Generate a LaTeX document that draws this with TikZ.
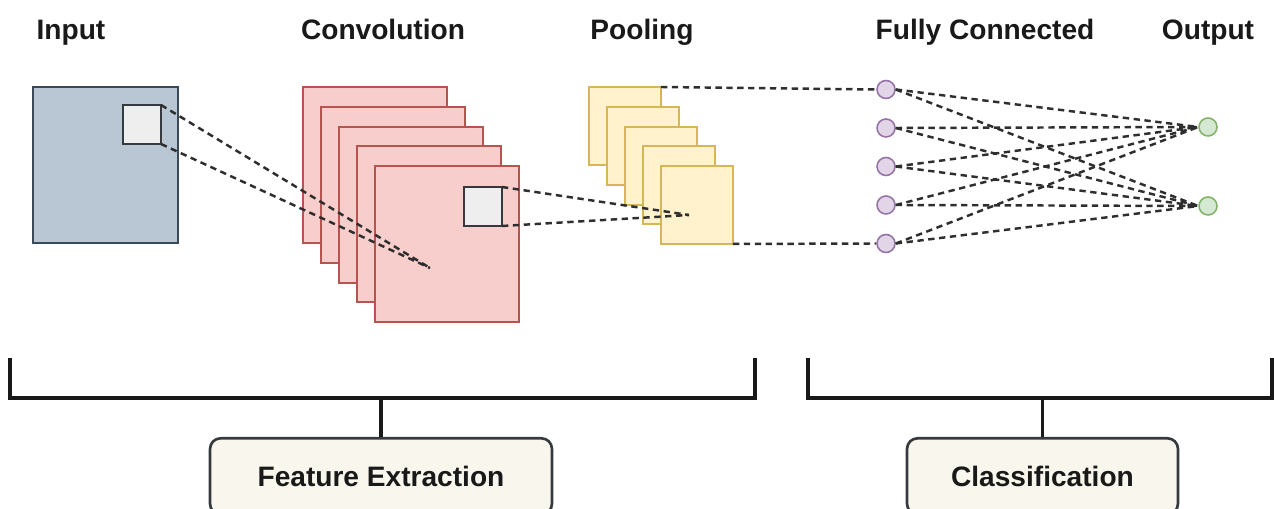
\documentclass[tikz,border=0pt]{standalone}
\usepackage{fontspec}
\setmainfont{Liberation Sans}
\definecolor{inF}{HTML}{B8C7D3}\definecolor{inD}{HTML}{3A4A58}
\definecolor{cvF}{HTML}{F8CECC}\definecolor{cvD}{HTML}{B85450}
\definecolor{plF}{HTML}{FFF2CC}\definecolor{plD}{HTML}{D6B656}
\definecolor{fcF}{HTML}{E1D5E7}\definecolor{fcD}{HTML}{9673A6}
\definecolor{otF}{HTML}{D5E8D4}\definecolor{otD}{HTML}{82B366}
\definecolor{sqF}{HTML}{EEEEEE}\definecolor{sqD}{HTML}{36393D}
\definecolor{bxF}{HTML}{F9F7ED}\definecolor{lnC}{HTML}{2E2E2E}
\tikzset{
  box/.style={rectangle,inner sep=0pt,outer sep=0pt,anchor=north west,line width=1pt},
  inbox/.style={box,fill=inF,draw=inD,line width=1.2pt,minimum width=2.90cm,minimum height=3.12cm},
  cvbox/.style={box,fill=cvF,draw=cvD,minimum width=2.88cm,minimum height=3.12cm},
  plbox/.style={box,fill=plF,draw=plD,minimum width=1.44cm,minimum height=1.56cm},
  sqbox/.style={box,fill=sqF,draw=sqD,line width=1.5pt,minimum width=0.76cm,minimum height=0.78cm},
  fcn/.style={circle,fill=fcF,draw=fcD,line width=0.9pt,minimum size=0.36cm,inner sep=0pt},
  otn/.style={circle,fill=otF,draw=otD,line width=0.9pt,minimum size=0.36cm,inner sep=0pt},
  dline/.style={draw=lnC,line width=1.4pt,dash pattern=on 3.6pt off 2.6pt},
  title/.style={font=\fontsize{16}{19}\selectfont\bfseries,text=black!90,anchor=base,inner sep=0pt},
  brk/.style={draw=black!90,line width=2pt},
  lbl/.style={rectangle,rounded corners=6pt,fill=bxF,draw=sqD,line width=1.5pt,
     minimum height=1.52cm,inner sep=0pt,font=\fontsize{16}{19}\selectfont\bfseries,text=black!90,anchor=north}
}
\begin{document}
\begin{tikzpicture}[x=0.02cm,y=-0.02cm]
\useasboundingbox (0,0) rectangle (1274,509);
\clip (0,0) rectangle (1274,509);
% titles
\node[title] (tIn) at (71,40) {Input};
\node[title] (tCv) at (383,40) {Convolution};
\node[title] (tPl) at (642,40) {Pooling};
\node[title] (tFc) at (985,40) {Fully Connected};
\node[title] (tOt) at (1208,40) {Output};
% input
\node[inbox] (in) at (33,87) {};
\node[sqbox] (insq) at (123,105) {};
% convolution
\node[cvbox] (cv1) at (303,87) {};
\node[cvbox] (cv2) at (321,107) {};
\node[cvbox] (cv3) at (339,127) {};
\node[cvbox] (cv4) at (357,146) {};
\node[cvbox] (cv5) at (375,166) {};
\node[sqbox] (cvsq) at (464,187) {};
% pooling
\node[plbox] (pl1) at (589,87) {};
\node[plbox] (pl2) at (607,107) {};
\node[plbox] (pl3) at (625,127) {};
\node[plbox] (pl4) at (643,146) {};
\node[plbox] (pl5) at (661,166) {};
% fully connected
\foreach \i/\y in {1/89.5,2/128,3/166.5,4/205,5/243.5}{
  \node[fcn] (fc\i) at (886,\y) {};
}
\node[otn] (ot1) at (1208,127) {};
\node[otn] (ot2) at (1208,206) {};
% connectors
\coordinate (c1) at (430,268);
\coordinate (c2) at (689,215);
\draw[dline] (insq.north east) -- (c1);
\draw[dline] (insq.south east) -- (c1);
\draw[dline] (cvsq.north east) -- (c2);
\draw[dline] (cvsq.south east) -- (c2);
\draw[dline] (pl1.north east) -- (fc1.west);
\draw[dline] (pl5.south east) -- (fc5.west);
\foreach \i in {1,...,5}{
  \foreach \j in {1,2}{
    \draw[dline] (fc\i.east) -- (ot\j.west);
  }
}
% brackets
\coordinate (bL1) at (10,358);
\coordinate (bL2) at (755,358);
\coordinate (bLm) at (381,398);
\coordinate (bR1) at (808,358);
\coordinate (bR2) at (1272,358);
\coordinate (bRm) at (1042.5,398);
\node[lbl,minimum width=6.84cm] (fe) at (381,437) {Feature Extraction};
\node[lbl,minimum width=5.42cm] (cl) at (1042.5,437) {Classification};
\draw[brk] (bL1) |- (bLm) -| (bL2);
\draw[brk] (bLm) -- (fe.north);
\draw[brk] (bR1) |- (bRm) -| (bR2);
\draw[brk] (bRm) -- (cl.north);
\end{tikzpicture}
\end{document}
